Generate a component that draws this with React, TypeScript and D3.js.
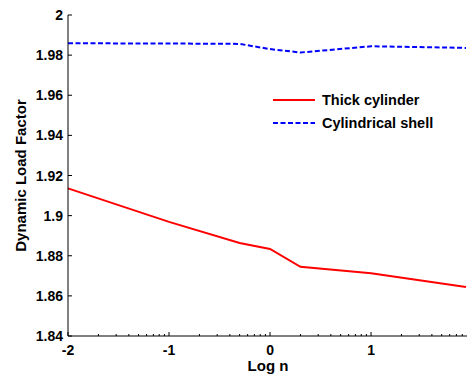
import React from "react";
import * as d3 from "d3";

const logN = [-2, -1, -0.301, 0, 0.301, 1, 1.94];
const thickCylinder = [1.9136, 1.8969, 1.8864, 1.8834, 1.8745, 1.8713, 1.8644];
const cylindricalShell = [1.9859, 1.9858, 1.9856, 1.983, 1.9813, 1.9844, 1.9836];
const xMajorTicks = [-2, -1, 0, 1];
const yTicks = [1.84, 1.86, 1.88, 1.9, 1.92, 1.94, 1.96, 1.98, 2];
const yTickLabels = ["1.84", "1.86", "1.88", "1.9", "1.92", "1.94", "1.96", "1.98", "2"];
const legendLabels = ["Thick cylinder", "Cylindrical shell"];

const W = 467;
const H = 374;
const font = "Arial, 'Liberation Sans', Helvetica, sans-serif";

export default function App() {
  const x = d3.scaleLinear().domain([-2, 1.94]).range([68, 466]);
  const y = d3.scaleLinear().domain([1.84, 2]).range([336, 15]);
  const line = d3
    .line<number>()
    .x((_, i) => x(logN[i]))
    .y((d) => y(d));

  const minor: number[] = [];
  for (let dec = -2; dec <= 1; dec++) {
    for (let k = 2; k <= 9; k++) {
      const v = dec + Math.log10(k);
      if (v <= 1.94) minor.push(v);
    }
  }

  const x0 = x.range()[0];
  const yb = y.range()[0];

  return (
    <svg
      width={W}
      height={H}
      style={{ position: "absolute", left: 0, top: 0, background: "#fff" }}
      fontFamily={font}
      fontWeight="bold"
    >
      {/* lines */}
      <path d={line(thickCylinder) || ""} fill="none" stroke="#ff0000" strokeWidth={2} />
      <path
        d={line(cylindricalShell) || ""}
        fill="none"
        stroke="#0000ff"
        strokeWidth={2}
        strokeDasharray="5,2.5"
      />

      {/* axes */}
      <line x1={x0} x2={x0} y1={y(2)} y2={yb} stroke="#000" strokeWidth={1} />
      <line x1={x0} x2={W} y1={yb} y2={yb} stroke="#000" strokeWidth={1} />

      {yTicks.map((t, i) => (
        <g key={"y" + i}>
          <line x1={x0} x2={x0 + 4} y1={y(t)} y2={y(t)} stroke="#000" strokeWidth={1} />
          <text
            x={x0 - 5}
            y={y(t)}
            dy="0.36em"
            textAnchor="end"
            fontSize={14}
            fill="#000"
          >
            {yTickLabels[i]}
          </text>
        </g>
      ))}

      {minor.map((t, i) => (
        <line key={"m" + i} x1={x(t)} x2={x(t)} y1={yb} y2={yb - 2} stroke="#000" strokeWidth={1} />
      ))}
      {xMajorTicks.map((t, i) => (
        <g key={"x" + i}>
          <line x1={x(t)} x2={x(t)} y1={yb} y2={yb - 4} stroke="#000" strokeWidth={1} />
          <text x={x(t)} y={355} textAnchor="middle" fontSize={14} fill="#000">
            {String(t)}
          </text>
        </g>
      ))}

      <text x={268} y={371} textAnchor="middle" fontSize={15} fill="#000">
        Log n
      </text>
      <text
        transform={`translate(26,${(y(2) + yb) / 2}) rotate(-90)`}
        textAnchor="middle"
        fontSize={15}
        fill="#000"
      >
        Dynamic Load Factor
      </text>

      {/* legend */}
      <line x1={273} x2={315} y1={100} y2={100} stroke="#ff0000" strokeWidth={2} />
      <text x={322} y={100} dy="0.36em" fontSize={14.5} fill="#000">
        {legendLabels[0]}
      </text>
      <line
        x1={273}
        x2={315}
        y1={123}
        y2={123}
        stroke="#0000ff"
        strokeWidth={2}
        strokeDasharray="5,2.5"
      />
      <text x={322} y={123} dy="0.36em" fontSize={14.5} fill="#000">
        {legendLabels[1]}
      </text>
    </svg>
  );
}
